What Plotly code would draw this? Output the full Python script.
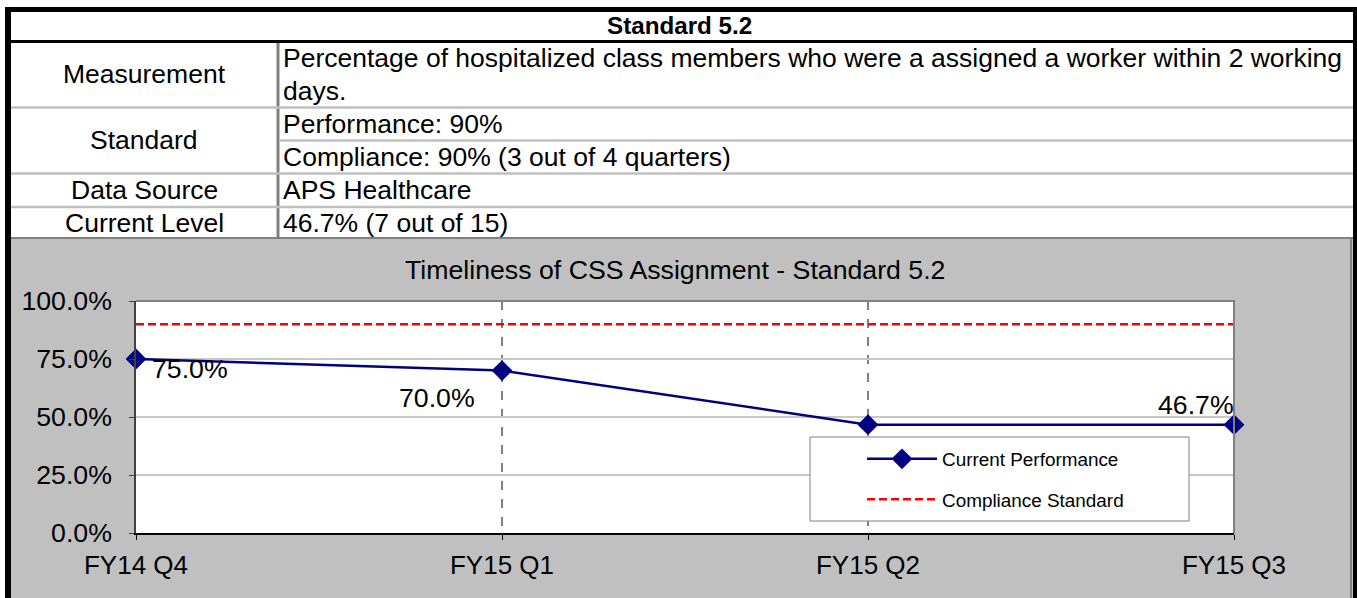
import plotly.graph_objects as go

# ---------------- data ----------------
quarters = ["FY14 Q4", "FY15 Q1", "FY15 Q2", "FY15 Q3"]
performance = [0.75, 0.70, 0.467, 0.467]
compliance = [0.90, 0.90, 0.90, 0.90]

table_title = "Standard 5.2"
row_labels = ["Measurement", "Standard", "Data Source", "Current Level"]
measurement_lines = ["Percentage of hospitalized class members who were a assigned a worker within 2 working",
                     "days."]
standard_lines = ["Performance: 90%", "Compliance: 90% (3 out of 4 quarters)"]
data_source = "APS Healthcare"
current_level = "46.7% (7 out of 15)"
chart_title = "Timeliness of CSS Assignment - Standard 5.2"

# label placement per point (anchor, x offset px, y offset px); None -> drawn under legend
label_style = [("left", 14, -10), ("right", -25, -27), None, ("right", 2, 20)]

# ---------------- geometry helpers ----------------
W, H = 1357, 598
FONT = "Liberation Sans, Arial, sans-serif"
FS = 26.5


def px(x):
    return x / W


def py(y):
    return 1 - y / H


shapes = []


def rect(x0, y0, x1, y1, fill, line_color=None, lw=0, layer="below"):
    shapes.append(dict(type="rect", xref="paper", yref="paper",
                       x0=px(x0), x1=px(x1), y0=py(y1), y1=py(y0),
                       fillcolor=fill, layer=layer,
                       line=dict(color=line_color or fill, width=lw)))


def line(x0, y0, x1, y1, color, lw, layer="below", dash="solid"):
    shapes.append(dict(type="line", xref="paper", yref="paper",
                       x0=px(x0), x1=px(x1), y0=py(y0), y1=py(y1),
                       layer=layer, line=dict(color=color, width=lw, dash=dash)))


# background table + chart panel
rect(0, 0, W, H, "white")
rect(11, 239, 1353, H, "#C0C0C0")
rect(136, 301, 1234, 533, "white")

# outer borders
rect(5, 7, 11, H, "black")
rect(1353, 7, W, H, "black")
rect(5, 7, W, 12, "black")
rect(11, 40, 1353, 43, "black")
line(1351, 239, 1351, H, "#808080", 2)
line(11, 238, 1353, 238, "#808080", 2)

# table inner lines
line(278, 43, 278, 238, "#808080", 3)
line(11, 107.5, 1353, 107.5, "#C0C0C0", 2.5)
line(279, 140.5, 1353, 140.5, "#C0C0C0", 2.5)
line(11, 173.5, 1353, 173.5, "#C0C0C0", 2.5)
line(11, 207, 1353, 207, "#C0C0C0", 2.5)

# plot frame top / right
line(136, 301, 1235, 301, "#808080", 2, layer="above")
line(1234, 300, 1234, 533, "#808080", 2, layer="above")

# legend box
rect(810, 437, 1189, 521, "white", "#808080", 1, layer="above")

annotations = []


def text(x, y, s, anchor="center", size=FS, bold=False):
    annotations.append(dict(xref="paper", yref="paper", x=px(x), y=py(y),
                            text=f"<b>{s}</b>" if bold else s, showarrow=False,
                            xanchor=anchor, yanchor="middle",
                            font=dict(family=FONT, size=size, color="black")))


text(679, 26, table_title, bold=True, size=24.2)
left_c = 144
tx = 281
text(left_c, 74, row_labels[0])
text(tx, 58, measurement_lines[0], anchor="left")
text(tx, 91, measurement_lines[1], anchor="left")
text(left_c, 140, row_labels[1])
text(tx, 124, standard_lines[0], anchor="left")
text(tx, 157, standard_lines[1], anchor="left")
text(left_c, 190, row_labels[2])
text(tx, 190, data_source, anchor="left")
text(left_c, 223, row_labels[3])
text(tx, 223, current_level, anchor="left")
text(675, 270, chart_title, size=26.7)

# data labels (from the data, placed via the axes)
hidden_text = []
for i, (q, v) in enumerate(zip(quarters, performance)):
    st = label_style[i]
    if st is None:
        hidden_text.append(f"{v:.1%}")
        continue
    hidden_text.append("")
    anchor, dx, dy = st
    annotations.append(dict(xref="x", yref="y", x=i, y=v, text=f"{v:.1%}",
                            showarrow=False, xanchor=anchor, yanchor="middle",
                            xshift=dx, yshift=dy,
                            font=dict(family=FONT, size=26.7, color="black")))

# ---------------- figure ----------------
fig = go.Figure()
fig.add_trace(go.Scatter(
    x=list(range(len(quarters))), y=performance, name="Current Performance",
    mode="lines+markers+text", legendgroup="a",
    line=dict(color="#000080", width=2.5),
    marker=dict(symbol="diamond", size=16, color="#000080"),
    text=hidden_text, textposition="bottom right",
    textfont=dict(family=FONT, size=26.7, color="black"),
    cliponaxis=False, hoverinfo="skip"))
fig.add_trace(go.Scatter(
    x=list(range(len(quarters))), y=compliance, name="Compliance Standard",
    mode="lines", legendgroup="b",
    line=dict(color="#FF0000", width=2.5, dash="8px,4px"),
    cliponaxis=False, hoverinfo="skip"))

fig.update_layout(
    template="none",
    width=W, height=H, autosize=False,
    margin=dict(l=0, r=0, t=0, b=0, pad=0, autoexpand=False),
    paper_bgcolor="white", plot_bgcolor="rgba(0,0,0,0)",
    shapes=shapes, annotations=annotations,
    showlegend=True,
    legend=dict(x=px(862), y=py(440), xanchor="left", yanchor="top",
                bgcolor="rgba(0,0,0,0)", borderwidth=0,
                traceorder="grouped", tracegroupgap=13, itemwidth=70,
                font=dict(family=FONT, size=18.9, color="black")),
    font=dict(family=FONT, color="black"),
)
fig.update_xaxes(
    domain=[px(136), px(1234)], range=[0, 3], automargin=False,
    tickmode="array", tickvals=list(range(len(quarters))), ticktext=quarters,
    showgrid=True, gridcolor="#808080", griddash="dash", gridwidth=1.5,
    showline=True, linecolor="black", linewidth=1.5,
    ticks="outside", ticklen=5, tickcolor="black", ticklabelstandoff=3,
    tickfont=dict(family=FONT, size=26, color="black"), zeroline=False,
    fixedrange=True)
fig.update_yaxes(
    domain=[py(533), py(301)], range=[0, 1], automargin=False,
    tickmode="array", tickvals=[0, 0.25, 0.5, 0.75, 1.0], tickformat=".1%",
    showgrid=True, gridcolor="#C8C8C8", gridwidth=1.5,
    showline=True, linecolor="#404040", linewidth=1.5,
    ticks="outside", ticklen=5, tickcolor="#404040", ticklabelstandoff=12,
    tickfont=dict(family=FONT, size=26.7, color="black"), zeroline=False,
    fixedrange=True)

fig.write_html("out.html", config={"displayModeBar": False},
               post_script="document.body.style.margin='0';")
